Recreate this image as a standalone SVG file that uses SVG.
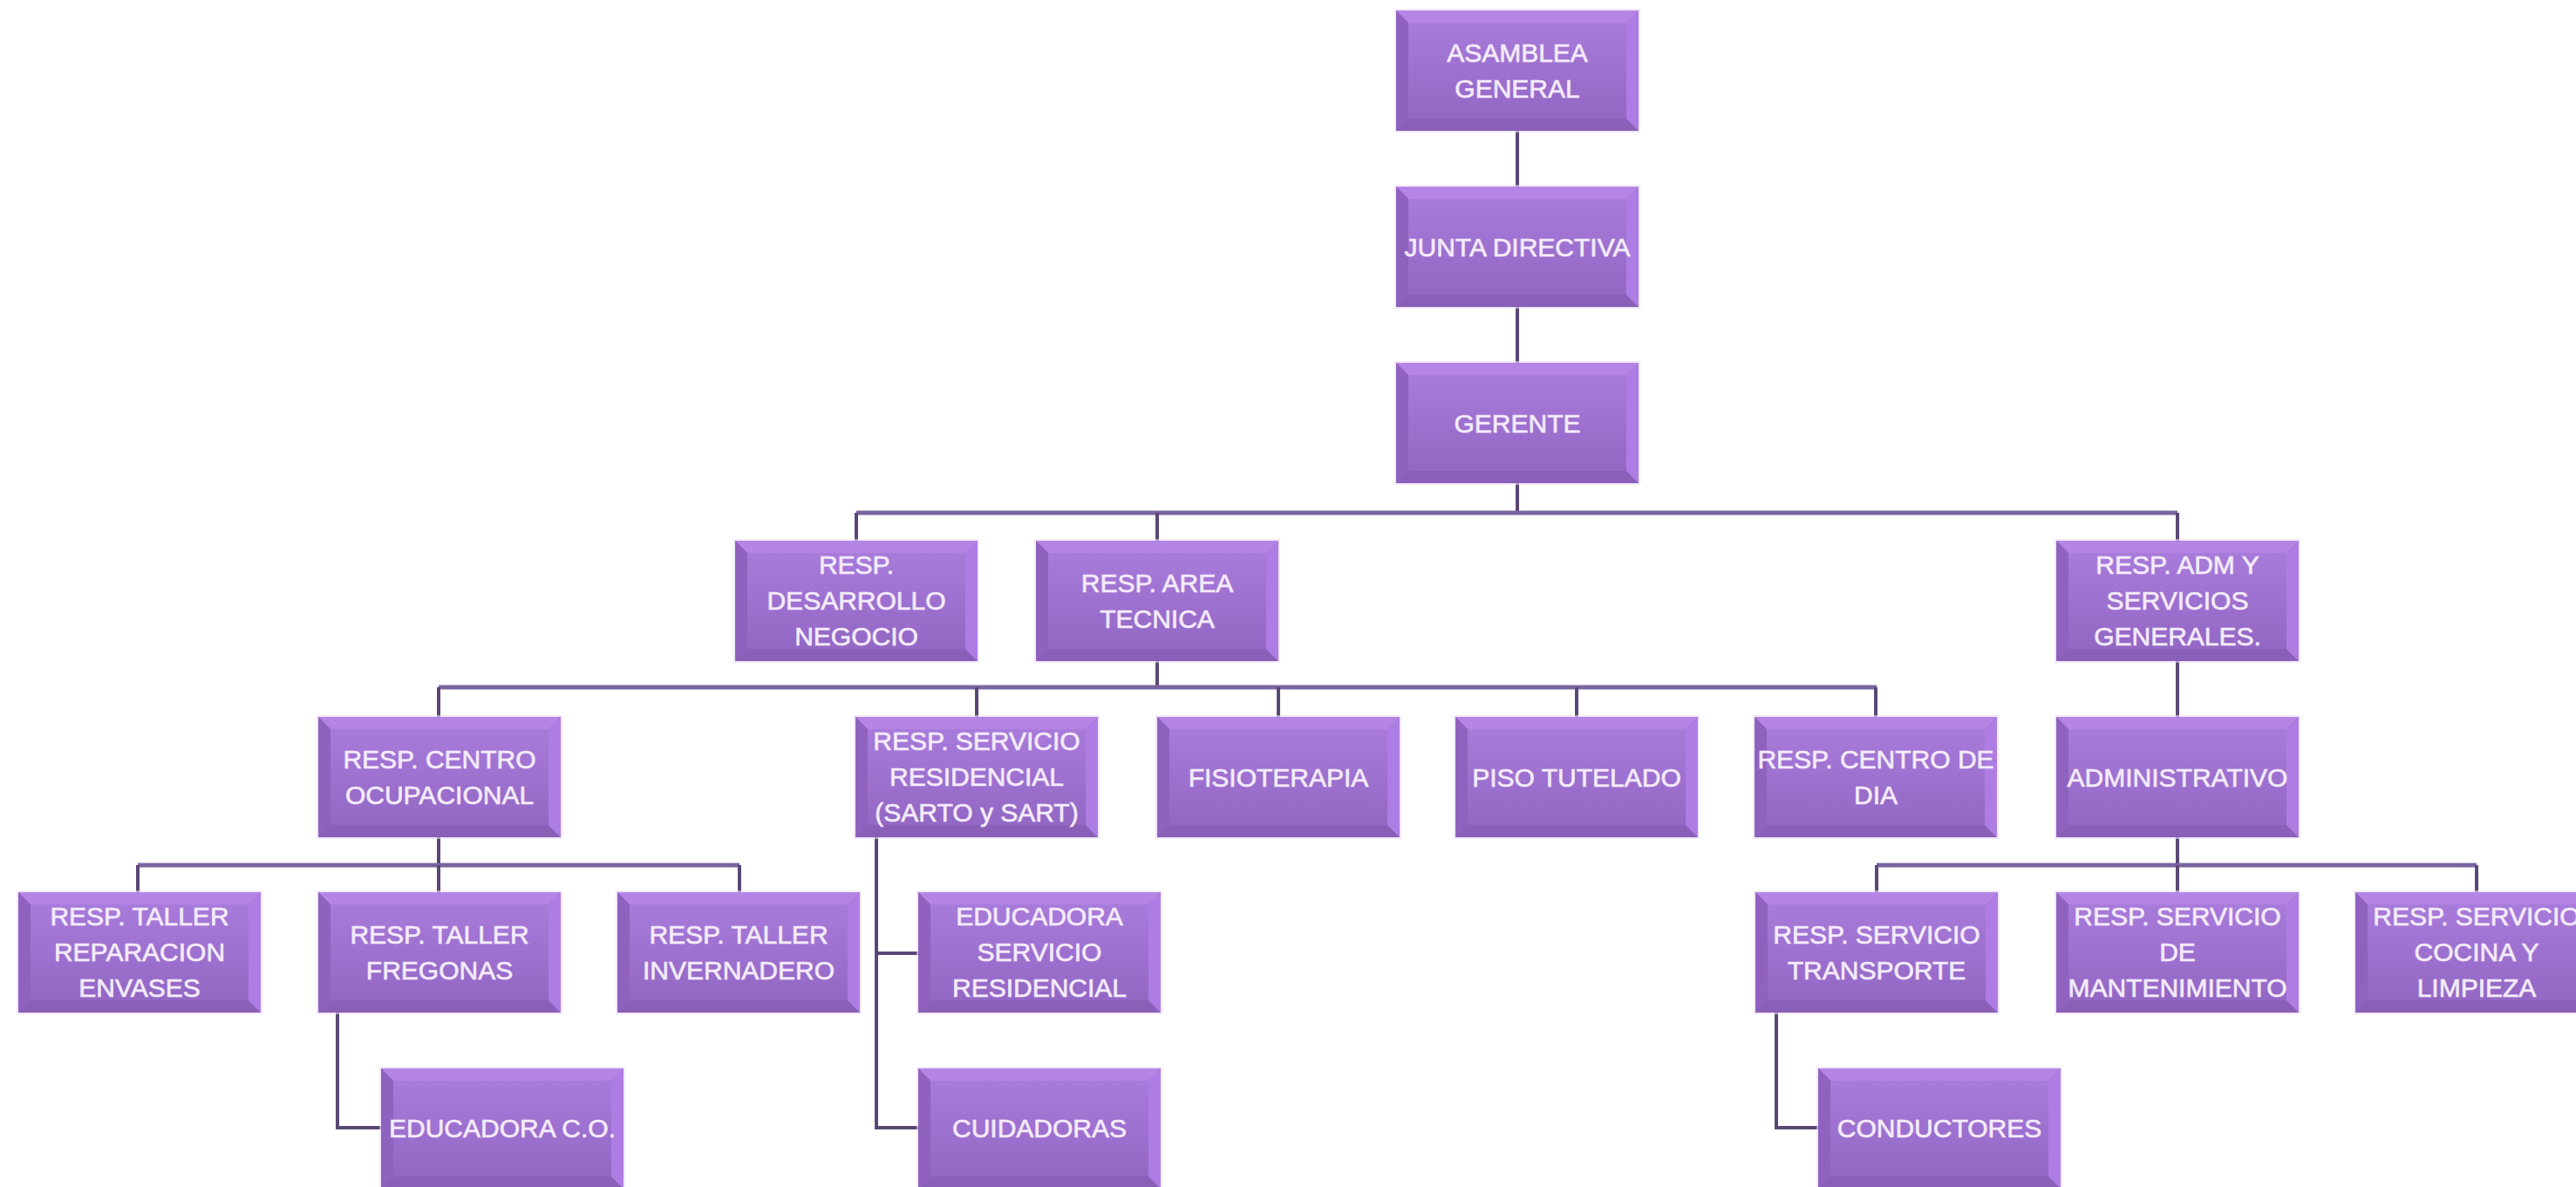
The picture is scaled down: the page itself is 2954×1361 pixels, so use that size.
<svg xmlns="http://www.w3.org/2000/svg" xmlns:xlink="http://www.w3.org/1999/xlink" width="2954" height="1361" viewBox="0 0 2954 1361">
<style>
.t{font-family:"Liberation Sans",Arial,sans-serif;font-size:30px;fill:#f5edfb;stroke:#f1e6fa;stroke-width:0.7;text-anchor:middle}
.c{fill:none;stroke:#5a4776;stroke-width:4}
.h{fill:none;stroke:#7a65a0;stroke-width:5}
</style>
<defs>
<linearGradient id="face" x1="0" y1="0" x2="0" y2="1">
<stop offset="0" stop-color="#a87bdb"/>
<stop offset="1" stop-color="#9367c4"/>
</linearGradient>
<g id="box">
<rect x="-2" y="-2" width="282" height="142" fill="#e9dcf5" opacity="0.6"/>
<rect x="0" y="0" width="278" height="138" fill="#9a6dca"/>
<polygon points="0,0 278,0 264,14 14,14" fill="#b585e6"/>
<polygon points="0,0 14,14 14,124 0,138" fill="#9062bf"/>
<polygon points="0,138 14,124 264,124 278,138" fill="#8a5fb7"/>
<polygon points="278,0 278,138 264,124 264,14" fill="#ae7de3"/>
<rect x="14" y="14" width="250" height="110" fill="url(#face)"/>
</g>
</defs>
<rect width="2954" height="1361" fill="#ffffff"/>
<g id="connectors">
<path class="c" d="M1740 150V214M1740 352V416M1740 554V588"/>
<path class="h" d="M982 588H2497"/>
<path class="c" d="M982 588V620M1327 588V620M2497 588V620"/>
<path class="c" d="M1327 757V788M2497 757V822"/>
<path class="h" d="M503 788H2152"/>
<path class="c" d="M503 788V822M1120 788V822M1466 788V822M1808 788V822M2151 788V822"/>
<path class="c" d="M503 960V992M2497 960V992"/>
<path class="h" d="M158 992H848M2152 992H2840"/>
<path class="c" d="M158 992V1023M503 992V1023M848 992V1023M2152 992V1023M2497 992V1023M2840 992V1023"/>
<path class="c" d="M1005 960V1293H1053M1005 1093H1053"/>
<path class="c" d="M387 1161V1293H437"/>
<path class="c" d="M2037 1161V1293H2085"/>
</g>
<g id="asamblea"><use xlink:href="#box" x="1601" y="12"/><text class="t" x="1740" y="71">ASAMBLEA<tspan x="1740" dy="41">GENERAL</tspan></text></g>
<g id="junta"><use xlink:href="#box" x="1601" y="214"/><text class="t" x="1740" y="294">JUNTA DIRECTIVA</text></g>
<g id="gerente"><use xlink:href="#box" x="1601" y="416"/><text class="t" x="1740" y="496">GERENTE</text></g>
<g id="desarrollo"><use xlink:href="#box" x="843" y="620"/><text class="t" x="982" y="658">RESP.<tspan x="982" dy="41">DESARROLLO</tspan><tspan x="982" dy="41">NEGOCIO</tspan></text></g>
<g id="area-tecnica"><use xlink:href="#box" x="1188" y="620"/><text class="t" x="1327" y="679">RESP. AREA<tspan x="1327" dy="41">TECNICA</tspan></text></g>
<g id="adm"><use xlink:href="#box" x="2358" y="620"/><text class="t" x="2497" y="658">RESP. ADM Y<tspan x="2497" dy="41">SERVICIOS</tspan><tspan x="2497" dy="41">GENERALES.</tspan></text></g>
<g id="centro-ocupacional"><use xlink:href="#box" x="365" y="822"/><text class="t" x="504" y="881">RESP. CENTRO<tspan x="504" dy="41">OCUPACIONAL</tspan></text></g>
<g id="servicio-residencial"><use xlink:href="#box" x="981" y="822"/><text class="t" x="1120" y="860">RESP. SERVICIO<tspan x="1120" dy="41">RESIDENCIAL</tspan><tspan x="1120" dy="41">(SARTO y SART)</tspan></text></g>
<g id="fisioterapia"><use xlink:href="#box" x="1327" y="822"/><text class="t" x="1466" y="902">FISIOTERAPIA</text></g>
<g id="piso-tutelado"><use xlink:href="#box" x="1669" y="822"/><text class="t" x="1808" y="902">PISO TUTELADO</text></g>
<g id="centro-dia"><use xlink:href="#box" x="2012" y="822"/><text class="t" x="2151" y="881">RESP. CENTRO DE<tspan x="2151" dy="41">DIA</tspan></text></g>
<g id="administrativo"><use xlink:href="#box" x="2358" y="822"/><text class="t" x="2497" y="902">ADMINISTRATIVO</text></g>
<g id="taller-reparacion"><use xlink:href="#box" x="21" y="1023"/><text class="t" x="160" y="1061">RESP. TALLER<tspan x="160" dy="41">REPARACION</tspan><tspan x="160" dy="41">ENVASES</tspan></text></g>
<g id="taller-fregonas"><use xlink:href="#box" x="365" y="1023"/><text class="t" x="504" y="1082">RESP. TALLER<tspan x="504" dy="41">FREGONAS</tspan></text></g>
<g id="taller-invernadero"><use xlink:href="#box" x="708" y="1023"/><text class="t" x="847" y="1082">RESP. TALLER<tspan x="847" dy="41">INVERNADERO</tspan></text></g>
<g id="educadora-sr"><use xlink:href="#box" x="1053" y="1023"/><text class="t" x="1192" y="1061">EDUCADORA<tspan x="1192" dy="41">SERVICIO</tspan><tspan x="1192" dy="41">RESIDENCIAL</tspan></text></g>
<g id="servicio-transporte"><use xlink:href="#box" x="2013" y="1023"/><text class="t" x="2152" y="1082">RESP. SERVICIO<tspan x="2152" dy="41">TRANSPORTE</tspan></text></g>
<g id="mantenimiento"><use xlink:href="#box" x="2358" y="1023"/><text class="t" x="2497" y="1061">RESP. SERVICIO<tspan x="2497" dy="41">DE</tspan><tspan x="2497" dy="41">MANTENIMIENTO</tspan></text></g>
<g id="cocina"><use xlink:href="#box" x="2701" y="1023"/><text class="t" x="2840" y="1061">RESP. SERVICIO<tspan x="2840" dy="41">COCINA Y</tspan><tspan x="2840" dy="41">LIMPIEZA</tspan></text></g>
<g id="educadora-co"><use xlink:href="#box" x="437" y="1225"/><text class="t" x="576" y="1304">EDUCADORA C.O.</text></g>
<g id="cuidadoras"><use xlink:href="#box" x="1053" y="1225"/><text class="t" x="1192" y="1304">CUIDADORAS</text></g>
<g id="conductores"><use xlink:href="#box" x="2085" y="1225"/><text class="t" x="2224" y="1304">CONDUCTORES</text></g>
</svg>
